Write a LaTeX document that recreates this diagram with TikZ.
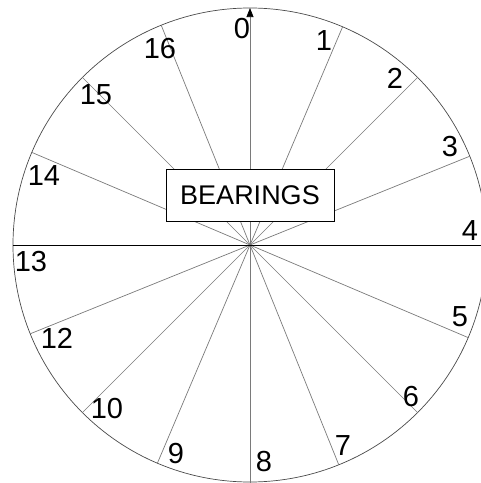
\documentclass[tikz,border=0pt]{standalone}
\usepackage{fontspec}
\setmainfont{Liberation Sans}
\usetikzlibrary{arrows.meta}
\definecolor{dlgrey}{HTML}{7A7A7A}
\definecolor{dlrim}{HTML}{4A4A4A}
\tikzset{
  spoke/.style={draw=dlgrey, line width=0.7pt},
  numlbl/.style={inner sep=0pt, font=\fontsize{29}{29}\selectfont},
}
\begin{document}
\begin{tikzpicture}[x=1pt, y=1pt]
  \useasboundingbox (-250,-238) rectangle (231,245);
  \clip (-250,-238) rectangle (231,245);
  % dial and spokes
  \node[circle, draw=dlrim, line width=0.7pt, minimum size=474pt, inner sep=0pt, outer sep=0pt] (dial) at (0,0) {};
  \foreach \a in {22.5,45,67.5,112.5,135,157.5,202.5,225,247.5,292.5,315,337.5}
    \draw[spoke] (dial.center) -- (dial.\a);
  \coordinate (foot) at (0,-238);
  \draw[spoke, -{Triangle[width=7pt, length=9pt, black]}] (foot) -- (dial.north);
  \draw[black, line width=0.7pt] (dial.west) -- (dial.east);
  % title box
  \node[draw=black, fill=white, line width=0.7pt, minimum width=168pt, minimum height=52pt, font=\fontsize{27}{27}\selectfont] (title) at (0,50) {BEARINGS};
  % bearing numbers
  \node[numlbl] (n0) at (-8,216) {0};
  \node[numlbl] (n1) at (74,204) {1};
  \node[numlbl] (n2) at (145,167) {2};
  \node[numlbl] (n3) at (200,98) {3};
  \node[numlbl] (n4) at (220,14) {4};
  \node[numlbl] (n5) at (210,-72) {5};
  \node[numlbl] (n6) at (161,-152) {6};
  \node[numlbl] (n7) at (93,-201) {7};
  \node[numlbl] (n8) at (14,-217) {8};
  \node[numlbl] (n9) at (-74,-209) {9};
  \node[numlbl] (n10) at (-143,-164) {10};
  \node[numlbl] (n12) at (-193,-93) {12};
  \node[numlbl] (n13) at (-219,-17) {13};
  \node[numlbl] (n14) at (-206,69) {14};
  \node[numlbl] (n15) at (-154,150) {15};
  \node[numlbl] (n16) at (-90,196) {16};
\end{tikzpicture}
\end{document}
